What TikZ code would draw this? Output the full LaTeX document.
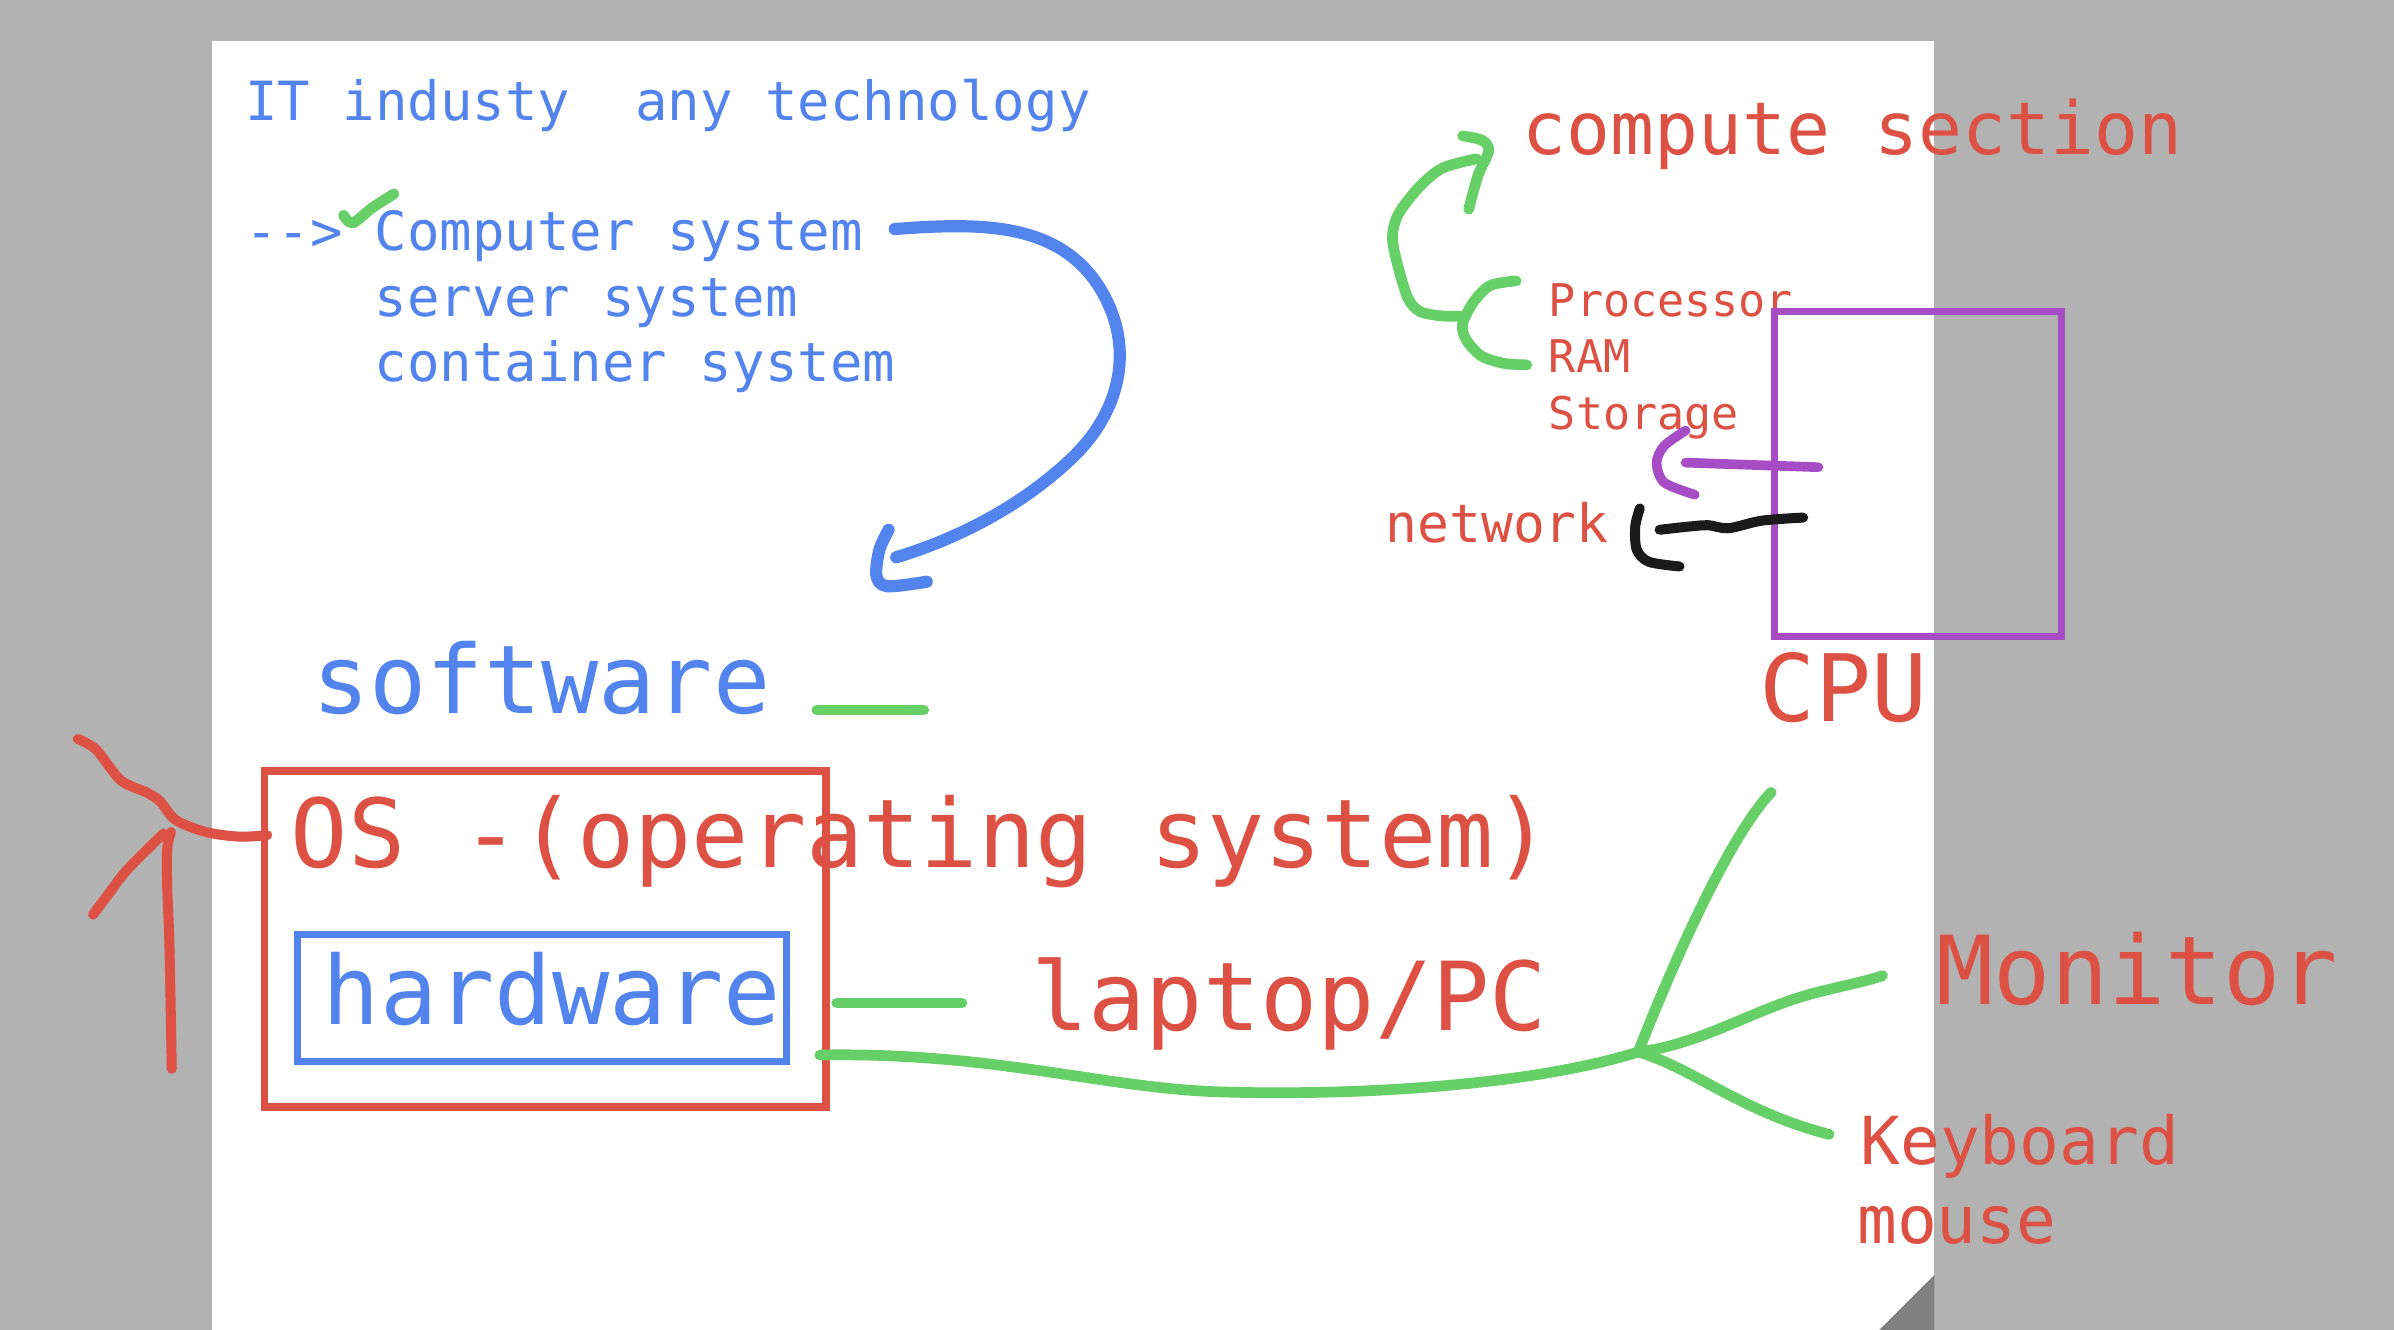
\documentclass[tikz,border=0pt]{standalone}
\usepackage{fontspec}
\usepackage{tikz}
\newfontfamily\manoFont{DejaVu Sans Mono}
\definecolor{azulTinta}{RGB}{83,131,236}
\definecolor{rojoTinta}{RGB}{221,81,68}
\definecolor{verdeTinta}{RGB}{103,207,103}
\definecolor{moradoTinta}{RGB}{166,76,196}
\definecolor{negroTinta}{RGB}{26,26,26}
\definecolor{grisFondo}{RGB}{178,178,178}
\definecolor{grisPliegue}{RGB}{128,128,128}

\begin{document}
\begin{tikzpicture}[x=0.015cm, y=-0.015cm,
    etiqueta/.style={anchor=base west, inner sep=0pt, font=\manoFont\fontsize{#1}{#1}\selectfont},
    trazo/.style={line width=3pt, line cap=round, line join=round},
    marco/.style={line width=2pt}]

    \useasboundingbox (0,0) rectangle (1568,871);
    % pizarra
    \fill[grisFondo] (0,0) rectangle (1568,871);
    \fill[white] (139,27) rectangle (1267,871);
    \fill[grisPliegue] (1231,871) -- (1267,835) -- (1267,871) -- cycle;

    % textos azules
    \node[etiqueta=15.1, text=azulTinta] (titulo) at (160,79) {IT industy\ \ any technology};
    \node[etiqueta=15.1, text=azulTinta] (flechita) at (160,164) {{-}{-}>};
    \node[etiqueta=15.1, text=azulTinta] (compu) at (245,164) {Computer system};
    \node[etiqueta=15.1, text=azulTinta] (servidor) at (245,207) {server system};
    \node[etiqueta=15.1, text=azulTinta] (contenedor) at (245,250) {container system};
    \node[etiqueta=26.6, text=azulTinta] (soft) at (204,467) {software};
    \node[etiqueta=26.6, text=azulTinta] (hard) at (211,671) {hardware};

    % textos rojos
    \node[etiqueta=26.6, text=rojoTinta] (so) at (190,568) {OS -(operating system)};
    \node[etiqueta=26.6, text=rojoTinta] (laptop) at (675,675) {laptop/PC};
    \node[etiqueta=20.4, text=rojoTinta] (computo) at (997,101) {compute section};
    \node[etiqueta=12.6, text=rojoTinta] (proc) at (1014,207.6) {Processor};
    \node[etiqueta=12.6, text=rojoTinta] (ram) at (1014,244) {RAM};
    \node[etiqueta=12.6, text=rojoTinta] (disco) at (1014,281) {Storage};
    \node[etiqueta=14.8, text=rojoTinta] (red) at (907,355) {network};
    \node[etiqueta=26, text=rojoTinta] (cpu) at (1152,472.6) {CPU};
    \node[etiqueta=26.6, text=rojoTinta] (monitor) at (1268,657.6) {Monitor};
    \node[etiqueta=18.5, text=rojoTinta] (teclado) at (1218,762.5) {Keyboard};
    \node[etiqueta=18.5, text=rojoTinta] (raton) at (1216,814.6) {mouse};

    % marcos
    \draw[marco, rojoTinta] (173,505) rectangle (541,725);
    \draw[marco, azulTinta] (195,612) rectangle (515,695);
    \draw[marco, moradoTinta] (1162,204) rectangle (1350,417);

    % trazos verdes
    \draw[trazo, verdeTinta] plot[smooth] coordinates {(225,141) (231,146) (244,136) (258,127)};
    \draw[trazo, verdeTinta] (535,465) -- (605,465);
    \draw[trazo, verdeTinta] (548,657) -- (630,657);
    \draw[trazo, verdeTinta] (537,691) .. controls (650,689) and (720,712) .. (795,715) .. controls (880,718) and (1000,712) .. (1073,689);
    \draw[trazo, verdeTinta] (1073,689) .. controls (1100,620) and (1135,545) .. (1160,519);
    \draw[trazo, verdeTinta] (1073,689) .. controls (1115,684) and (1150,660) .. (1190,650) .. controls (1210,645) and (1225,642) .. (1233,639);
    \draw[trazo, verdeTinta] (1073,689) .. controls (1110,700) and (1140,728) .. (1198,743);
    \draw[trazo, verdeTinta] plot[smooth] coordinates {(962,137) (968,115) (975,99) (971,92) (958,89)};
    \draw[trazo, verdeTinta] plot[smooth] coordinates {(967,104) (945,110) (930,122) (916,140) (912,155) (915,172) (922,195) (930,204) (945,207) (960,207)};
    \draw[trazo, verdeTinta] plot[smooth] coordinates {(993,184) (976,187) (965,198) (958,212) (960,222) (970,233) (985,238) (1000,239)};

    % flecha azul
    \draw[trazo, azulTinta, line width=3.4pt] (586,150) .. controls (640,146) and (690,145) .. (718,185) .. controls (745,225) and (735,270) .. (700,302) .. controls (670,330) and (630,352) .. (587,365);
    \draw[trazo, azulTinta, line width=3.4pt] plot[smooth] coordinates {(582,347) (576,360) (574,377) (581,384) (607,381)};

    % flecha roja
    \draw[trazo, rojoTinta, line width=2.8pt] plot[smooth] coordinates {(112.5,700) (111,620) (109.5,580) (109.5,556) (112,545)};
    \draw[trazo, rojoTinta, line width=2.8pt] plot[smooth] coordinates {(61,599) (70,587) (83,570) (107,546)};
    \draw[trazo, rojoTinta, line width=2.8pt] plot[smooth] coordinates {(51,484) (63,491) (79,511) (96,519) (105,525) (115,537) (135,545) (157,548) (175,547)};

    % morado y negro
    \draw[trazo, moradoTinta, line width=2.7pt] plot[smooth] coordinates {(1104,282) (1090,292) (1085,303) (1090,316) (1110,324)};
    \draw[trazo, moradoTinta, line width=2.7pt] (1104,303) -- (1191,306);
    \draw[trazo, negroTinta, line width=2.8pt] plot[smooth] coordinates {(1074,333) (1071,345) (1072,360) (1080,368) (1100,371)};
    \draw[trazo, negroTinta, line width=2.8pt] plot[smooth] coordinates {(1087,347) (1105,345) (1119,344) (1132,346) (1154,341) (1181,339)};
\end{tikzpicture}
\end{document}
